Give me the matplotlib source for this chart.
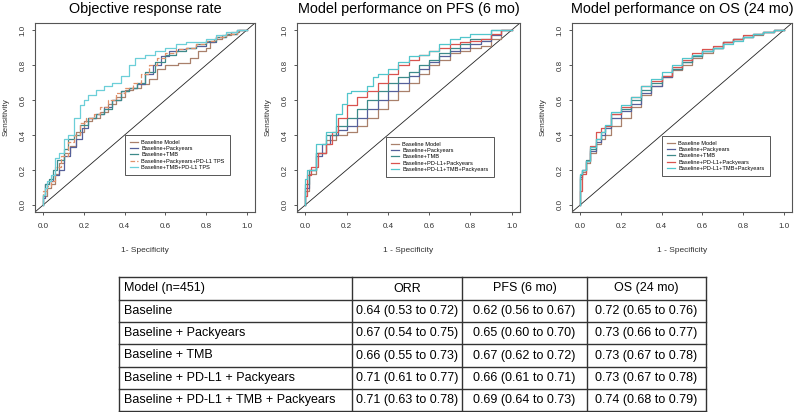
import matplotlib
matplotlib.use("Agg")
import matplotlib.pyplot as plt

plt.rcParams.update({
    "font.family": ["Liberation Sans", "DejaVu Sans"],
    "axes.linewidth": 0.8,
    "axes.edgecolor": "#555555",
    "xtick.color": "#555555", "ytick.color": "#555555",
    "xtick.labelcolor": "#333333", "ytick.labelcolor": "#333333",
})

# ---- ROC curves (x = 1 - specificity, y = sensitivity)
# panel 1: objective response rate
orr_base_x = [0, .02, .04, .06, .08, .10, .13, .16, .20, .24, .28, .32, .36, .40, .44, .48, .52, .56, .60, .66, .72, .76, .80, .82, .84, .88, .92, .96, 1]
orr_base_y = [0, .05, .10, .12, .18, .24, .30, .34, .42, .48, .50, .53, .58, .62, .66, .67, .69, .72, .78, .80, .81, .84, .88, .90, .93, .95, .97, .99, 1]
orr_pack_x = [0, .01, .03, .05, .08, .10, .13, .16, .19, .22, .26, .30, .34, .38, .42, .46, .50, .54, .58, .62, .66, .70, .75, .80, .85, .90, .95, 1]
orr_pack_y = [0, .04, .12, .14, .17, .20, .28, .33, .38, .44, .50, .52, .56, .60, .65, .67, .69, .75, .80, .85, .88, .89, .90, .91, .93, .96, .98, 1]
orr_tmb_x = [0, .01, .03, .05, .07, .10, .12, .15, .18, .22, .26, .30, .34, .38, .42, .46, .50, .55, .60, .65, .70, .75, .80, .85, .90, .95, 1]
orr_tmb_y = [0, .06, .12, .15, .20, .26, .32, .38, .40, .46, .50, .52, .55, .60, .65, .67, .70, .76, .82, .86, .88, .90, .92, .94, .96, .98, 1]
orr_pkpd_x = [0, .02, .04, .06, .09, .12, .15, .18, .21, .25, .28, .32, .36, .40, .44, .48, .52, .56, .60, .65, .70, .75, .80, .85, .90, .95, 1]
orr_pkpd_y = [0, .08, .11, .14, .22, .28, .36, .40, .47, .50, .52, .56, .60, .64, .67, .70, .75, .80, .84, .87, .89, .90, .92, .94, .96, .98, 1]
orr_tmbpd_x = [0, .01, .02, .04, .06, .08, .10, .12, .15, .18, .20, .22, .26, .30, .34, .38, .42, .45, .50, .55, .60, .65, .70, .75, .80, .85, .90, .95, 1]
orr_tmbpd_y = [0, .06, .10, .14, .17, .27, .30, .38, .40, .50, .57, .60, .63, .66, .68, .70, .74, .80, .84, .86, .88, .90, .92, .93, .93, .95, .97, .99, 1]

# panel 2: PFS (6 mo)
pfs_base_x = [0, .02, .05, .10, .15, .20, .25, .30, .35, .40, .45, .50, .55, .60, .65, .70, .75, .80, .85, .90, .95, 1]
pfs_base_y = [0, .08, .18, .30, .37, .40, .42, .45, .50, .55, .60, .65, .70, .75, .80, .83, .87, .88, .90, .91, .95, 1]
pfs_pack_x = [0, .02, .05, .08, .12, .16, .20, .25, .30, .35, .40, .45, .50, .55, .60, .65, .70, .75, .80, .85, .90, .95, 1]
pfs_pack_y = [0, .10, .20, .28, .35, .40, .43, .45, .50, .55, .60, .65, .70, .74, .78, .82, .85, .88, .90, .92, .94, .97, 1]
pfs_tmb_x = [0, .02, .05, .10, .15, .20, .25, .30, .35, .40, .45, .50, .55, .60, .65, .70, .75, .80, .90, 1]
pfs_tmb_y = [0, .12, .20, .30, .40, .45, .50, .55, .60, .65, .70, .73, .76, .80, .83, .87, .90, .92, .95, 1]
pfs_pdpk_x = [0, .01, .03, .06, .10, .13, .16, .20, .25, .30, .35, .40, .45, .50, .55, .60, .65, .70, .75, .80, .85, .90, .95, 1]
pfs_pdpk_y = [0, .05, .17, .22, .30, .35, .42, .50, .57, .62, .65, .70, .75, .80, .83, .86, .88, .90, .92, .93, .94, .95, .98, 1]
pfs_all_x = [0, .01, .05, .10, .15, .18, .20, .22, .30, .33, .35, .40, .45, .50, .55, .60, .65, .70, .75, .80, .90, 1]
pfs_all_y = [0, .15, .20, .35, .42, .52, .58, .64, .65, .68, .73, .75, .78, .82, .85, .86, .88, .92, .95, .96, .98, 1]

# panel 3: OS (24 mo)
os_base_x = [0, .01, .03, .05, .08, .10, .12, .15, .20, .25, .30, .35, .40, .45, .50, .55, .60, .65, .70, .75, .80, .85, .90, .95, 1]
os_base_y = [0, .15, .19, .24, .30, .35, .38, .40, .45, .50, .56, .63, .68, .73, .77, .80, .84, .87, .90, .93, .95, .96, .97, .99, 1]
os_pack_x = [0, .01, .03, .05, .08, .10, .12, .15, .20, .25, .30, .35, .40, .45, .50, .55, .60, .65, .70, .75, .80, .85, .90, .95, 1]
os_pack_y = [0, .16, .20, .25, .31, .36, .40, .44, .50, .54, .58, .64, .68, .73, .78, .82, .85, .88, .90, .93, .95, .96, .98, .99, 1]
os_tmb_x = [0, .01, .03, .05, .08, .10, .12, .15, .20, .25, .30, .35, .40, .45, .50, .55, .60, .65, .70, .75, .80, .85, .90, .95, 1]
os_tmb_y = [0, .17, .20, .26, .32, .38, .42, .45, .52, .55, .60, .66, .70, .74, .78, .82, .85, .88, .90, .93, .95, .96, .98, .99, 1]
os_pdpk_x = [0, .01, .03, .05, .08, .10, .12, .15, .20, .25, .30, .35, .40, .45, .50, .55, .60, .65, .70, .75, .80, .85, .90, .95, 1]
os_pdpk_y = [0, .08, .18, .25, .34, .42, .44, .45, .52, .56, .62, .68, .71, .74, .79, .83, .87, .89, .91, .93, .95, .97, .98, .99, 1]
os_all_x = [0, .01, .03, .05, .08, .10, .12, .15, .20, .25, .30, .35, .40, .45, .50, .55, .60, .65, .70, .75, .80, .85, .90, .95, 1]
os_all_y = [0, .18, .20, .25, .33, .38, .42, .46, .53, .57, .62, .68, .72, .76, .80, .84, .86, .88, .90, .92, .94, .96, .98, .99, 1]

# ---- legend labels / styles
lab1 = ["Baseline Model", "Baseline+Packyears", "Baseline+TMB",
        "Baseline+Packyears+PD-L1 TPS", "Baseline+TMB+PD-L1 TPS"]
lab23 = ["Baseline Model", "Baseline+Packyears", "Baseline+TMB",
         "Baseline+PD-L1+Packyears", "Baseline+PD-L1+TMB+Packyears"]
col1 = ["#a9806b", "#55609a", "#3d8a8a", "#e0906a", "#6ccfd8"]
col23 = ["#a9806b", "#55609a", "#3d8a8a", "#d9534f", "#52c6cc"]
ls1 = ["-", "-", "-", "--", "-"]
ls23 = ["-"] * 5

titles = ["Objective response rate", "Model performance on PFS (6 mo)",
          "Model performance on OS (24 mo)"]
xlabels = ["1- Specificity", "1 - Specificity", "1 - Specificity"]

panels = [
    ([(orr_base_x, orr_base_y), (orr_pack_x, orr_pack_y), (orr_tmb_x, orr_tmb_y),
      (orr_pkpd_x, orr_pkpd_y), (orr_tmbpd_x, orr_tmbpd_y)], lab1, col1, ls1),
    ([(pfs_base_x, pfs_base_y), (pfs_pack_x, pfs_pack_y), (pfs_tmb_x, pfs_tmb_y),
      (pfs_pdpk_x, pfs_pdpk_y), (pfs_all_x, pfs_all_y)], lab23, col23, ls23),
    ([(os_base_x, os_base_y), (os_pack_x, os_pack_y), (os_tmb_x, os_tmb_y),
      (os_pdpk_x, os_pdpk_y), (os_all_x, os_all_y)], lab23, col23, ls23),
]

# ---- table
tbl_header = ["Model (n=451)", "ORR", "PFS (6 mo)", "OS (24 mo)"]
tbl_models = ["Baseline", "Baseline + Packyears", "Baseline + TMB",
              "Baseline + PD-L1 + Packyears", "Baseline + PD-L1 + TMB + Packyears"]
tbl_orr = ["0.64 (0.53 to 0.72)", "0.67 (0.54 to 0.75)", "0.66 (0.55 to 0.73)",
           "0.71 (0.61 to 0.77)", "0.71 (0.63 to 0.78)"]
tbl_pfs = ["0.62 (0.56 to 0.67)", "0.65 (0.60 to 0.70)", "0.67 (0.62 to 0.72)",
           "0.66 (0.61 to 0.71)", "0.69 (0.64 to 0.73)"]
tbl_os = ["0.72 (0.65 to 0.76)", "0.73 (0.66 to 0.77)", "0.73 (0.67 to 0.78)",
          "0.73 (0.67 to 0.78)", "0.74 (0.68 to 0.79)"]

W, H = 800, 412
fig = plt.figure(figsize=(8, 4.12), dpi=100)

boxes = [(35, 220), (297, 223), (572, 220)]   # left px, width px
top_px, bot_px = 23, 212
leg_at = [(0.409, 0.407), (0.399, 0.397), (0.409, 0.402)]

for i, ((curves, labels, cols, styles), (lx, wx)) in enumerate(zip(panels, boxes)):
    ax = fig.add_axes([lx / W, 1 - bot_px / H, wx / W, (bot_px - top_px) / H])
    ax.axline((0, 0), (1, 1), color="#222222", lw=0.6, zorder=1)
    for (x, y), lab, c, ls in zip(curves, labels, cols, styles):
        ax.plot(x, y, drawstyle="steps-pre", color=c, lw=0.9, ls=ls,
                label=lab, zorder=2)
    ax.set_xlim(-0.04, 1.04)
    ax.set_ylim(-0.04, 1.04)
    ticks = [0, 0.2, 0.4, 0.6, 0.8, 1.0]
    ax.set_xticks(ticks)
    ax.set_xticklabels([f"{t:.1f}" for t in ticks])
    ax.set_yticks(ticks)
    ax.set_yticklabels([f"{t:.1f}" for t in ticks], rotation=90, va="center")
    ax.tick_params(axis="x", length=2.5, width=0.7, pad=5.5, labelsize=5.8)
    ax.tick_params(axis="y", length=2.5, width=0.7, pad=3.5, labelsize=5.8)
    ax.set_xlabel(xlabels[i], fontsize=6, labelpad=12.5, color="#333333")
    ax.set_ylabel("Sensitivity", fontsize=6, labelpad=7, color="#333333")
    ax.set_title(titles[i], fontsize=10.4, pad=7)
    leg = ax.legend(loc="upper left", bbox_to_anchor=leg_at[i], borderaxespad=0,
                    fontsize=4.1, handlelength=1.3, handletextpad=0.7,
                    labelspacing=0.2, borderpad=0.9, fancybox=False,
                    framealpha=1, edgecolor="#555555")
    leg.get_frame().set_linewidth(0.7)

# table drawn in pixel coordinates
tx = [119, 352, 462, 587, 706]
ty = [277, 300, 322, 344, 367, 389, 411]
tax = fig.add_axes([0, 0, 1, 1])
tax.set_xlim(0, W)
tax.set_ylim(H, 0)
tax.axis("off")
for y in ty:
    tax.plot([tx[0], tx[-1]], [y, y], color="#333333", lw=1.0)
for x in tx:
    tax.plot([x, x], [ty[0], ty[-1]], color="#333333", lw=1.0)

rows = [tbl_header] + [list(r) for r in zip(tbl_models, tbl_orr, tbl_pfs, tbl_os)]
for r, row in enumerate(rows):
    yc = (ty[r] + ty[r + 1]) / 2
    for c, txt in enumerate(row):
        if c == 0:
            tax.text(tx[0] + 5, yc, txt, ha="left", va="center", fontsize=9)
        else:
            tax.text((tx[c] + tx[c + 1]) / 2, yc, txt, ha="center",
                     va="center", fontsize=9)

fig.savefig("out.png", dpi=100)
